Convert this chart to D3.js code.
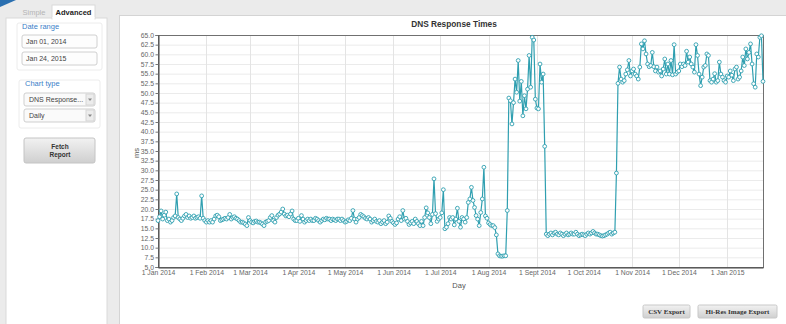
<!DOCTYPE html>
<html>
<head>
<meta charset="utf-8">
<script src="https://cdn.jsdelivr.net/npm/d3@7"></script>
<style>
  html, body { margin: 0; padding: 0; background: #ebebeb; overflow: hidden; }
  svg { display: block; font-family: "Liberation Sans", Arial, sans-serif; }
</style>
</head>
<body>
<svg id="page" width="786" height="324"></svg>
<script>
// Daily DNS response time (ms), one value per day starting at startDay
const startDay = "2014-01-01";
const endDay = "2015-01-24";
const responseMs = [
  17.0, 18.0, 19.5, 17.4, 18.4, 19.2, 17.0, 17.4, 16.6, 17.0, 17.8, 18.2, 23.9,
  17.8, 17.4, 17.0, 17.6, 18.2, 18.6, 17.8, 18.2, 17.6, 17.8, 18.2, 17.6, 17.8, 18.0, 17.6, 23.4,
  17.6, 17.0, 16.6, 17.0, 16.6, 17.0, 16.6, 17.4, 18.2, 18.4, 18.0, 17.0, 17.2, 17.4, 17.6, 17.4, 17.8, 18.6, 17.4, 17.8, 18.0, 17.6,
  17.4, 17.0, 16.6, 16.6, 16.4, 16.1, 15.7, 17.8, 17.0, 16.6, 16.4, 16.8, 16.9, 16.6, 16.6, 16.4, 16.1, 15.7, 16.6, 16.8,
  17.0, 17.8, 18.3, 17.0, 16.6, 17.8, 18.4, 18.7, 19.2, 20.0, 18.7, 18.2, 18.4, 18.0, 18.7, 19.5, 17.4, 17.0, 17.0, 17.6,
  16.8, 18.3, 17.4, 16.6, 17.0, 17.4, 17.0, 17.4, 17.0, 17.0, 17.6, 17.4, 17.0, 16.6, 17.0, 17.4, 17.2, 17.6, 17.4,
  17.4, 17.0, 17.4, 17.2, 17.0, 17.4, 17.4, 17.0, 17.4, 17.0, 16.6, 16.8, 17.2, 17.0, 17.6, 19.6, 17.4, 16.6, 17.4, 17.8,
  18.6, 18.3, 18.0, 17.6, 17.4, 17.8, 17.4, 16.6, 17.0, 17.4, 16.8, 16.6, 17.0, 16.2, 16.6, 17.0, 16.2, 16.6, 18.2, 17.6,
  16.8, 16.4, 16.0, 16.4, 17.4, 18.0, 17.0, 19.6, 17.4, 17.6, 16.8, 16.0, 16.4, 16.8, 16.2, 17.4, 16.8, 16.2, 15.7, 16.8,
  15.7, 17.8, 20.3, 19.0, 17.8, 16.2, 18.6, 27.8, 18.8, 16.8, 17.4, 17.8, 19.0, 25.0, 14.9, 15.3, 16.2, 17.8, 17.4, 17.8,
  15.9, 17.4, 20.2, 16.8, 15.3, 17.8, 17.4, 16.6, 17.8, 21.7, 22.6, 25.6, 22.2, 20.4, 18.3, 17.4, 15.7, 19.1, 22.6, 30.8,
  18.2, 17.6, 16.4, 16.0, 15.7, 15.7, 15.2, 13.3, 8.4, 7.9, 7.8, 7.8, 7.9, 7.9, 19.6,
  48.7, 48.0, 42.0, 47.5, 53.6, 50.2, 58.4, 47.9, 53.0, 44.1, 49.3, 45.9, 51.0, 59.7, 51.5, 64.4, 63.7, 48.4, 46.1, 45.9, 57.5, 52.8, 54.9, 36.2,
  13.5, 13.1, 13.5, 13.8, 13.3, 13.8, 14.0, 13.5, 13.3, 13.8,
  13.5, 13.1, 13.5, 13.8, 13.3, 13.5, 13.8, 13.5, 13.5, 14.0,
  13.5, 13.1, 13.3, 13.5, 13.3, 13.1, 13.5, 13.8, 13.5, 13.8,
  14.2, 13.8, 13.5, 13.5, 13.3, 13.1, 13.0, 13.1, 13.3, 13.5,
  13.8, 14.0, 13.5, 13.8, 14.0,
  29.3,
  52.5, 56.7, 53.6, 52.8, 53.2, 54.9, 56.0, 58.4, 54.4, 55.7,
  56.2, 54.9, 54.4, 53.6, 56.7, 62.7, 61.4, 63.5, 60.1, 57.5,
  56.8, 57.1, 60.5, 56.8, 55.7, 56.7, 55.4, 55.7, 54.4, 56.2, 58.8,
  54.9, 57.5, 54.9, 58.4, 54.7, 62.5, 54.9, 55.4, 55.7, 57.5,
  56.8, 57.5, 57.1, 60.8, 58.0, 59.3, 57.5, 56.7, 55.4, 62.5, 59.7,
  54.9, 51.9, 54.1, 56.7, 57.1, 60.1, 59.7, 53.2, 52.8, 53.6, 55.0,
  52.8, 53.2, 58.0, 54.9, 54.1, 53.2, 52.8, 54.4, 54.1, 55.7, 54.6,
  53.2, 56.2, 56.7, 53.6, 54.1, 55.7, 59.3, 57.1, 61.4, 58.8,
  60.5, 62.7, 57.5, 52.4, 51.5, 60.1, 59.3, 64.4, 64.8, 53.0
];

const yTickValues = [5.0, 7.5, 10.0, 12.5, 15.0, 17.5, 20.0, 22.5, 25.0, 27.5, 30.0, 32.5,
  35.0, 37.5, 40.0, 42.5, 45.0, 47.5, 50.0, 52.5, 55.0, 57.5, 60.0, 62.5, 65.0];
const monthTicks = ["2014-01-01", "2014-02-01", "2014-03-01", "2014-04-01", "2014-05-01", "2014-06-01",
  "2014-07-01", "2014-08-01", "2014-09-01", "2014-10-01", "2014-11-01", "2014-12-01", "2015-01-01"];
const monthLabels = ["1 Jan 2014", "1 Feb 2014", "1 Mar 2014", "1 Apr 2014", "1 May 2014", "1 Jun 2014",
  "1 Jul 2014", "1 Aug 2014", "1 Sept 2014", "1 Oct 2014", "1 Nov 2014", "1 Dec 2014", "1 Jan 2015"];

const parse = d3.utcParse("%Y-%m-%d");
const t0 = parse(startDay);
const series = responseMs.map((v, i) => ({ date: d3.utcDay.offset(t0, i), value: v }));
const tickDates = monthTicks.map(parse);

const svg = d3.select("#page");
const lineColor = "#2f9fb0";

// ---------- page chrome ----------
svg.append("rect").attr("width", 786).attr("height", 324).attr("fill", "#ebebeb");

const defs = svg.append("defs");
const btnGrad = defs.append("linearGradient").attr("id", "btnGrad").attr("x1", 0).attr("y1", 0).attr("x2", 0).attr("y2", 1);
btnGrad.append("stop").attr("offset", "0%").attr("stop-color", "#f2f2f2");
btnGrad.append("stop").attr("offset", "100%").attr("stop-color", "#cfcfcf");

// sidebar
const side = svg.append("g");
side.append("path").attr("d", "M0,0 L16,0 L0,7 Z").attr("fill", "#2a6fb0");
side.append("rect").attr("x", 6).attr("y", 18).attr("width", 101).attr("height", 312)
  .attr("fill", "#ffffff").attr("stroke", "#dadada");
side.append("rect").attr("x", 52).attr("y", 5).attr("width", 43).attr("height", 14)
  .attr("fill", "#ffffff").attr("stroke", "#dadada");
side.append("rect").attr("x", 52.5).attr("y", 17).attr("width", 42).attr("height", 3).attr("fill", "#ffffff");
side.append("text").attr("x", 34).attr("y", 15).attr("text-anchor", "middle")
  .attr("font-size", 7.5).attr("fill", "#b5b5b5").text("Simple");
side.append("text").attr("x", 73.5).attr("y", 15).attr("text-anchor", "middle")
  .attr("font-size", 7.5).attr("font-weight", "bold").attr("fill", "#222").text("Advanced");

// Date range group
side.append("rect").attr("x", 17).attr("y", 23).attr("width", 85).attr("height", 47).attr("rx", 2)
  .attr("fill", "none").attr("stroke", "#ececec");
side.append("text").attr("x", 22).attr("y", 29).attr("font-size", 7.5).attr("fill", "#3a80c8").text("Date range");
[["Jan 01, 2014", 35], ["Jan 24, 2015", 52]].forEach(([t, y]) => {
  side.append("rect").attr("x", 22).attr("y", y).attr("width", 75).attr("height", 13).attr("rx", 2)
    .attr("fill", "#fdfdfd").attr("stroke", "#d0d0d0");
  side.append("text").attr("x", 26).attr("y", y + 9).attr("font-size", 7).attr("fill", "#444").text(t);
});

// Chart type group
side.append("rect").attr("x", 19).attr("y", 80).attr("width", 81).attr("height", 48).attr("rx", 2)
  .attr("fill", "none").attr("stroke", "#ececec");
side.append("text").attr("x", 25).attr("y", 86).attr("font-size", 7.5).attr("fill", "#3a80c8").text("Chart type");
[["DNS Response...", 93], ["Daily", 109]].forEach(([t, y]) => {
  side.append("rect").attr("x", 24).attr("y", y).attr("width", 71).attr("height", 13).attr("rx", 2)
    .attr("fill", "#fafafa").attr("stroke", "#cfcfcf");
  side.append("rect").attr("x", 86).attr("y", y + 1).attr("width", 8).attr("height", 11)
    .attr("fill", "#ececec").attr("stroke", "#d6d6d6");
  side.append("path").attr("d", `M88,${y + 5.5} L92,${y + 5.5} L90,${y + 8} Z`).attr("fill", "#888");
  side.append("text").attr("x", 29).attr("y", y + 9).attr("font-size", 7).attr("fill", "#444").text(t);
});

// Fetch button
side.append("rect").attr("x", 24).attr("y", 138).attr("width", 71).attr("height", 25).attr("rx", 2)
  .attr("fill", "url(#btnGrad)").attr("stroke", "#c4c4c4");
side.append("text").attr("x", 60).attr("y", 149).attr("text-anchor", "middle")
  .attr("font-size", 6.5).attr("font-weight", "bold").attr("fill", "#333").text("Fetch");
side.append("text").attr("x", 60).attr("y", 157).attr("text-anchor", "middle")
  .attr("font-size", 6.5).attr("font-weight", "bold").attr("fill", "#333").text("Report");

// main panel
svg.append("rect").attr("x", 119.5).attr("y", 15.5).attr("width", 672).attr("height", 312)
  .attr("fill", "#ffffff").attr("stroke", "#d4d4d4");

// export buttons
[["CSV Export", 643, 47], ["Hi-Res Image Export", 698, 79]].forEach(([t, x, w]) => {
  svg.append("rect").attr("x", x).attr("y", 305).attr("width", w).attr("height", 13).attr("rx", 1.5)
    .attr("fill", "url(#btnGrad)").attr("stroke", "#c8c8c8");
  svg.append("text").attr("x", x + w / 2).attr("y", 314).attr("text-anchor", "middle")
    .attr("font-family", "'Liberation Serif', 'Times New Roman', serif")
    .attr("font-size", 7).attr("font-weight", "bold").attr("fill", "#333").text(t);
});

// ---------- chart ----------
const plot = { left: 158, right: 763, top: 35, bottom: 267 };
const x = d3.scaleUtc().domain([t0, parse(endDay)]).range([plot.left, plot.right]);
const y = d3.scaleLinear().domain([5, 65]).range([plot.bottom, plot.top]);

const chart = svg.append("g");

// grid
chart.append("g").selectAll("line").data(yTickValues).join("line")
  .attr("x1", plot.left).attr("x2", plot.right)
  .attr("y1", d => y(d) + 0.5).attr("y2", d => y(d) + 0.5)
  .attr("stroke", "#ebebeb");
chart.append("g").selectAll("line").data(tickDates).join("line")
  .attr("x1", d => Math.round(x(d)) + 0.5).attr("x2", d => Math.round(x(d)) + 0.5)
  .attr("y1", plot.top).attr("y2", plot.bottom)
  .attr("stroke", "#e4e4e4");

// frame
chart.append("rect").attr("x", plot.left + 0.5).attr("y", plot.top + 0.5)
  .attr("width", plot.right - plot.left).attr("height", plot.bottom - plot.top)
  .attr("fill", "none").attr("stroke", "#707070");

// axes
const yAxis = chart.append("g").attr("transform", `translate(${plot.left + 0.5},0)`)
  .call(d3.axisLeft(y).tickValues(yTickValues).tickFormat(d3.format(".1f")).tickSize(3).tickPadding(1.5));
const xAxis = chart.append("g").attr("transform", `translate(0,${plot.bottom + 0.5})`)
  .call(d3.axisBottom(x).tickValues(tickDates).tickFormat((d, i) => monthLabels[i]).tickSize(0).tickPadding(3));
[yAxis, xAxis].forEach(a => {
  a.select(".domain").attr("stroke", "#444");
  a.selectAll(".tick line").attr("stroke", "#777");
  a.selectAll("text").attr("font-size", 6.8).attr("fill", "#666")
    .attr("font-family", "'Liberation Sans', Arial, sans-serif");
});

// titles
chart.append("text").attr("x", 454).attr("y", 27).attr("text-anchor", "middle")
  .attr("font-size", 8.3).attr("font-weight", "bold").attr("fill", "#333").text("DNS Response Times");
chart.append("text").attr("transform", "translate(139,153) rotate(-90)").attr("text-anchor", "middle")
  .attr("font-size", 7.5).attr("fill", "#555").text("ms");
chart.append("text").attr("x", 459).attr("y", 288).attr("text-anchor", "middle")
  .attr("font-size", 7.5).attr("fill", "#555").text("Day");

// series
const line = d3.line().x(d => x(d.date)).y(d => y(d.value));
chart.append("path").datum(series).attr("d", line)
  .attr("fill", "none").attr("stroke", lineColor).attr("stroke-width", 1.2);
chart.append("g").selectAll("circle").data(series).join("circle")
  .attr("cx", d => x(d.date)).attr("cy", d => y(d.value)).attr("r", 1.9)
  .attr("fill", "#ffffff").attr("stroke", lineColor).attr("stroke-width", 0.9);
</script>
</body>
</html>
